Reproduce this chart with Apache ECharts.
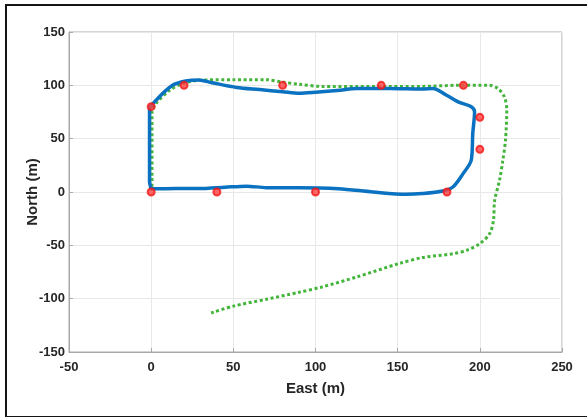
<!DOCTYPE html>
<html>
<head>
<meta charset="utf-8">
<script src="https://cdn.jsdelivr.net/npm/echarts@6/dist/echarts.min.js"></script>
<style>
html,body{margin:0;padding:0;background:#fff;overflow:hidden;width:587px;height:417px;}
#wrap{position:absolute;left:0;top:0;width:587px;height:417px;overflow:hidden;}
#chart{position:absolute;left:0;top:0;width:587px;height:417px;}
#frame{position:absolute;left:5px;top:4px;width:590px;height:410px;border:2px solid #151515;border-right:none;pointer-events:none;}
</style>
</head>
<body>
<div id="wrap">
<div id="chart"></div>
<div id="frame"></div>
</div>
<script>
// Tick labels
const xTicks = [-50, 0, 50, 100, 150, 200, 250];
const yTicks = [-150, -100, -50, 0, 50, 100, 150];

// Blue: actual trajectory
const blueEast  = [0, 15, 29, 45, 58, 70, 90, 114, 135, 155, 165, 177.5, 183.6, 189.7, 194.8, 195.7, 196.8, 194.8, 187.6, 179.5, 171.4, 165, 145, 125, 115, 100, 90, 80, 66, 52, 37, 29, 21, 13, 3, -1, -1, 0];
const blueNorth = [3, 3.2, 3.2, 4.5, 5.5, 4.1, 4.1, 3.1, 0, -2.2, -1.5, 0.9, 4.7, 17, 30, 55, 75, 80, 84, 91, 97, 96.5, 97, 97, 95.5, 93.5, 92.5, 94, 96, 98, 102.5, 105, 104, 100, 86, 77, 10, 3];

// Green: estimated trajectory
const greenEast  = [0.5, 0.5, 3, 11, 19, 29, 50, 70, 80, 90, 104, 125, 145, 165, 186, 206, 211, 215, 216.4, 215.6, 214, 212, 209, 208.3, 206, 200, 192, 184, 165, 151, 125, 104, 90, 70, 50, 36.5];
const greenNorth = [5, 75, 83, 95, 101.6, 104.7, 105.3, 105.3, 103, 101, 99, 99, 99, 99, 100, 100, 97, 89, 76.6, 48.5, 29.7, 11, -8, -26.5, -39, -48.4, -54.6, -57.8, -61.5, -67, -79.7, -89, -94, -100.6, -107, -113.4];

// Red: waypoints
const wpEast  = [0, 0, 20, 40, 80, 100, 140, 180, 190, 200, 200];
const wpNorth = [0, 80, 100, 0, 100, 0, 100, 0, 100, 70, 40];

const zip = (a, b) => a.map((v, i) => [v, b[i]]);

const fontFam = '"Liberation Sans",Arial,sans-serif';
const chart = echarts.init(document.getElementById('chart'), null, {renderer: 'canvas'});
chart.setOption({
  animation: false,
  backgroundColor: '#fff',
  grid: {left: 69, right: 25, top: 32, bottom: 65, show: true, borderColor: '#a8a8a8', borderWidth: 1, containLabel: false},
  xAxis: {
    type: 'value', min: xTicks[0], max: xTicks[xTicks.length - 1], interval: 50,
    name: 'East (m)', nameLocation: 'middle', nameGap: 29, nameMoveOverlap: false,
    nameTextStyle: {fontFamily: fontFam, fontWeight: 'bold', fontSize: 15, color: '#262626'},
    axisLine: {show: true, onZero: false, lineStyle: {color: '#a8a8a8', width: 1}},
    axisTick: {show: true, inside: true, length: 4, lineStyle: {color: '#a8a8a8'}},
    axisLabel: {fontFamily: fontFam, fontWeight: 'bold', fontSize: 13, color: '#262626', margin: 9},
    splitLine: {show: true, lineStyle: {color: '#e8e8e8', width: 1}}
  },
  yAxis: {
    type: 'value', min: yTicks[0], max: yTicks[yTicks.length - 1], interval: 50,
    name: 'North (m)', nameLocation: 'middle', nameGap: 29, nameMoveOverlap: false,
    nameTextStyle: {fontFamily: fontFam, fontWeight: 'bold', fontSize: 15, color: '#262626'},
    axisLine: {show: true, onZero: false, lineStyle: {color: '#a8a8a8', width: 1}},
    axisTick: {show: true, inside: true, length: 4, lineStyle: {color: '#a8a8a8'}},
    axisLabel: {fontFamily: fontFam, fontWeight: 'bold', fontSize: 13, color: '#262626', margin: 4},
    splitLine: {show: true, lineStyle: {color: '#e8e8e8', width: 1}}
  },
  series: [
    {
      type: 'line', data: zip(greenEast, greenNorth), showSymbol: false, smooth: 0.3,
      lineStyle: {color: '#43b53a', width: 3, type: [3, 2.6], cap: 'butt'}, z: 2
    },
    {
      type: 'line', data: zip(blueEast, blueNorth), showSymbol: false, smooth: 0.3,
      lineStyle: {color: '#0a72c0', width: 3.5, cap: 'round', join: 'round'}, z: 3
    },
    {
      type: 'scatter', data: zip(wpEast, wpNorth), symbol: 'circle', symbolSize: 7,
      itemStyle: {color: '#ff4040', borderColor: '#f01818', borderWidth: 2}, z: 4
    }
  ]
});
</script>
</body>
</html>
